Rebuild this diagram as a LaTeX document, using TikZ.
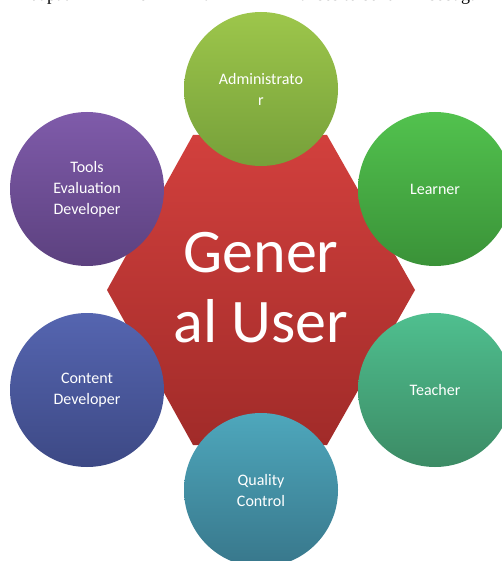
\documentclass[tikz,border=0pt]{standalone}
\usepackage{fontspec}
\setmainfont{Carlito}
\newfontfamily\docfont{Liberation Serif}
\definecolor{hexTop}{HTML}{D2403D}
\definecolor{hexBot}{HTML}{A12B29}
\definecolor{admTop}{HTML}{9DC64B}
\definecolor{admBot}{HTML}{76A03A}
\definecolor{lrnTop}{HTML}{52C24E}
\definecolor{lrnBot}{HTML}{3A9238}
\definecolor{tchTop}{HTML}{4FBF8F}
\definecolor{tchBot}{HTML}{3C8B65}
\definecolor{qcTop}{HTML}{4EA7BC}
\definecolor{qcBot}{HTML}{38778B}
\definecolor{cdTop}{HTML}{5565B0}
\definecolor{cdBot}{HTML}{3D4985}
\definecolor{tedTop}{HTML}{7F5BAA}
\definecolor{tedBot}{HTML}{5C417F}
\begin{document}
\begin{tikzpicture}[x=1pt,y=-1pt,
  bubble/.style={circle, minimum size=154pt, inner sep=0pt, text=white, align=center,
    font=\fontsize{16}{21}\selectfont},
  bigtext/.style={anchor=base, inner sep=0pt, text=white, font=\fontsize{62}{70}\selectfont},
  doctext/.style={anchor=base west, inner sep=0pt, font=\docfont\fontsize{18}{20}\selectfont}]
\useasboundingbox (0,0) rectangle (502,561);
\clip (0,0) rectangle (502,561);
\fill[white] (0,0) rectangle (502,561);
% cut-off line of document text
\node[doctext] (w1) at (30,0.5) {dapat};
\node[doctext] (w2) at (125,0.5) {memiliki hak};
\node[doctext] (w3) at (300,0.5) {akses tersendiri};
\node[doctext] (w4) at (429,0.5) {sebagai};
% hexagon
\shade[top color=hexTop, bottom color=hexBot]
  (193,135) -- (327,135) -- (415,290) -- (327,445) -- (193,445) -- (107,290) -- cycle;
\node[bigtext] (gu1) at (261,272) {Gener};
\node[bigtext] (gu2) at (261,342) {al User};
% circles
\node[bubble, top color=admTop, bottom color=admBot] (adm) at (261,89) {Administrato\\r};
\node[bubble, top color=lrnTop, bottom color=lrnBot] (lrn) at (435,189) {Learner};
\node[bubble, top color=tchTop, bottom color=tchBot] (tch) at (435,390) {Teacher};
\node[bubble, top color=qcTop, bottom color=qcBot] (qc) at (261,490) {Quality\\Control};
\node[bubble, top color=cdTop, bottom color=cdBot] (cd) at (87,390) {Content\\Developer};
\node[bubble, top color=tedTop, bottom color=tedBot] (ted) at (87,189) {Tools\\Evaluation\\Developer};
\end{tikzpicture}
\end{document}
